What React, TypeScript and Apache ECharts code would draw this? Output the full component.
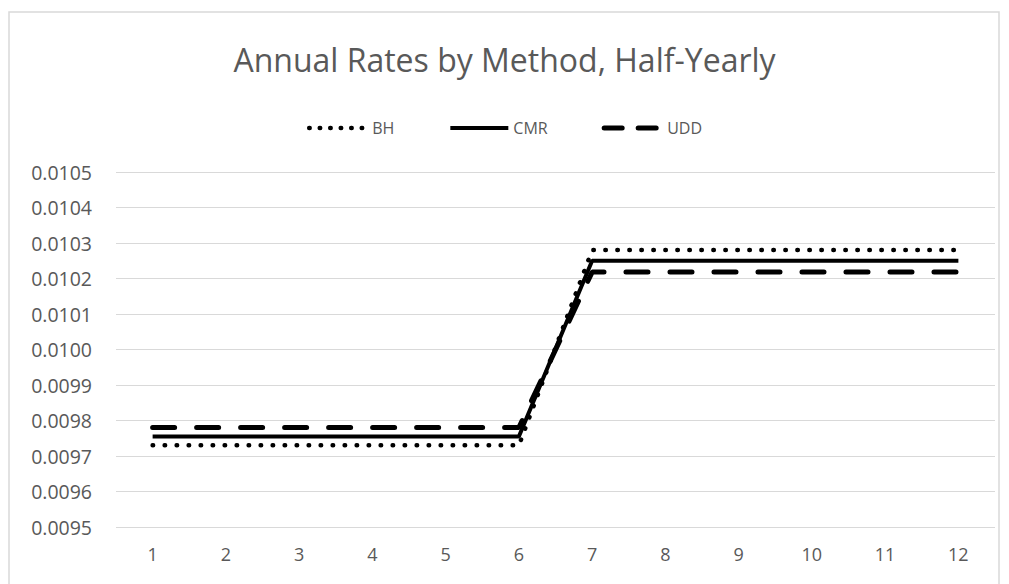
import React, { useEffect, useRef } from "react";
import * as echarts from "echarts";

const categories = ["1", "2", "3", "4", "5", "6", "7", "8", "9", "10", "11", "12"];
const bhValues = [0.00973, 0.00973, 0.00973, 0.00973, 0.00973, 0.00973, 0.01028, 0.01028, 0.01028, 0.01028, 0.01028, 0.01028];
const cmrValues = [0.009755, 0.009755, 0.009755, 0.009755, 0.009755, 0.009755, 0.01025, 0.01025, 0.01025, 0.01025, 0.01025, 0.01025];
const uddValues = [0.00978, 0.00978, 0.00978, 0.00978, 0.00978, 0.00978, 0.010218, 0.010218, 0.010218, 0.010218, 0.010218, 0.010218];

const FONT = "'Open Sans', 'Noto Sans', sans-serif";

export default function App() {
  const ref = useRef<HTMLDivElement>(null);
  useEffect(() => {
    if (!ref.current) return;
    const chart = echarts.init(ref.current, null, { renderer: "svg" });
    chart.setOption({
      animation: false,
      backgroundColor: "#ffffff",
      title: {
        text: "Annual Rates by Method, Half-Yearly",
        left: "center",
        top: 38,
        textStyle: { fontFamily: FONT, fontSize: 32, fontWeight: "normal", color: "#595959" },
      },
      legend: {
        top: 115,
        left: "center",
        itemWidth: 58,
        itemHeight: 14,
        itemGap: 54,
        itemStyle: { opacity: 0 },
        textStyle: { fontFamily: FONT, fontSize: 16, color: "#595959" },
        data: [
          { name: "BH", itemStyle: { opacity: 0 }, lineStyle: { type: [0.5, 10], width: 4.5, cap: "round" } },
          { name: "CMR", itemStyle: { opacity: 0 }, lineStyle: { type: "solid", width: 4 } },
          { name: "UDD", itemStyle: { opacity: 0 }, lineStyle: { type: [18, 16], width: 5, cap: "round" } },
        ],
      },
      graphic: [
        {
          type: "rect",
          shape: { x: 9, y: 12, width: 990, height: 620 },
          style: { fill: "none", stroke: "#d9d9d9", lineWidth: 1.5 },
          silent: true,
        },
      ],
      grid: { left: 116, right: 14, top: 172, bottom: 57 },
      xAxis: {
        type: "category",
        data: categories,
        boundaryGap: true,
        axisLine: { show: false },
        axisTick: { show: false },
        axisLabel: { margin: 18, fontFamily: FONT, fontSize: 18, color: "#595959" },
      },
      yAxis: {
        type: "value",
        min: 0.0095,
        max: 0.0105,
        interval: 0.0001,
        axisLine: { show: false },
        axisTick: { show: false },
        splitLine: { lineStyle: { color: "#d9d9d9", width: 1 } },
        axisLabel: {
          margin: 24,
          fontFamily: FONT,
          fontSize: 19.5,
          color: "#595959",
          formatter: (v: number) => v.toFixed(4),
        },
      },
      series: [
        {
          name: "BH",
          type: "line",
          data: bhValues,
          symbol: "none",
          itemStyle: { color: "#000000" },
          lineStyle: { color: "#000000", width: 4.5, type: [0.5, 11.5], cap: "round" },
        },
        {
          name: "CMR",
          type: "line",
          data: cmrValues,
          symbol: "none",
          itemStyle: { color: "#000000" },
          lineStyle: { color: "#000000", width: 4, type: "solid" },
        },
        {
          name: "UDD",
          type: "line",
          data: uddValues,
          symbol: "none",
          itemStyle: { color: "#000000" },
          lineStyle: { color: "#000000", width: 5, type: [22, 22], cap: "round" },
        },
      ],
    });
    return () => chart.dispose();
  }, []);
  return (
    <div
      ref={ref}
      style={{ position: "fixed", left: 0, top: 0, width: 1009, height: 584 }}
    />
  );
}
